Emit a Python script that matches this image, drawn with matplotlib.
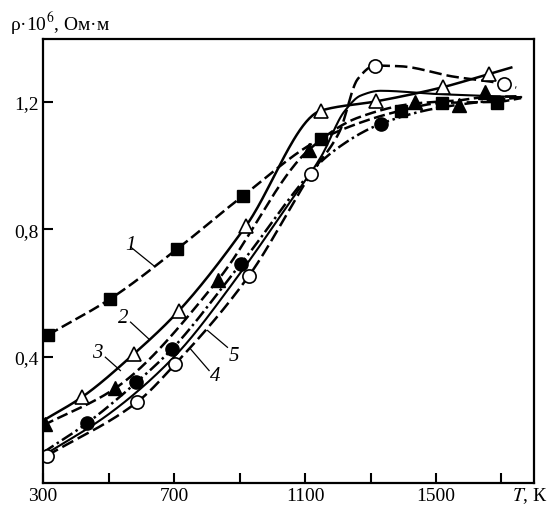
import numpy as np
import matplotlib
matplotlib.use("Agg")
import matplotlib.pyplot as plt

# values: T (K), rho*1e6 (Ohm*m)
# curve 1: filled squares, dashed
t1_pts = [315, 505, 710, 909, 1149, 1394, 1517, 1685]
r1_pts = [0.469, 0.582, 0.739, 0.904, 1.084, 1.173, 1.197, 1.197]
t1_line = [315, 505, 710, 909, 1149, 1394, 1517, 1685, 1760]
r1_line = [0.469, 0.582, 0.739, 0.904, 1.084, 1.173, 1.197, 1.200, 1.212]

# curve 2: open triangles, solid
t2_pts = [419, 577, 714, 919, 1149, 1318, 1520, 1662]
r2_pts = [0.274, 0.409, 0.544, 0.810, 1.173, 1.202, 1.246, 1.288]
t2_line = [300, 419, 577, 714, 919, 1149, 1318, 1520, 1662, 1730]
r2_line = [0.200, 0.274, 0.409, 0.544, 0.810, 1.173, 1.202, 1.246, 1.288, 1.308]

# curve 3: filled triangles, dashed
t3_pts = [305, 521, 833, 1112, 1435, 1570, 1649]
r3_pts = [0.190, 0.302, 0.640, 1.050, 1.200, 1.190, 1.230]
t3_line = [300, 521, 833, 1112, 1260, 1435, 1570, 1649, 1760]
r3_line = [0.185, 0.302, 0.640, 1.050, 1.150, 1.195, 1.205, 1.215, 1.218]

# filled circles, dash-dot
t4_pts = [434, 585, 694, 904, 1331]
r4_pts = [0.192, 0.320, 0.425, 0.692, 1.131]
t4_line = [300, 434, 585, 694, 904, 1180, 1331, 1500, 1760]
r4_line = [0.100, 0.192, 0.320, 0.425, 0.692, 1.040, 1.131, 1.180, 1.215]

# solid line without markers
t6_line = [300, 500, 700, 900, 1050, 1150, 1220, 1270, 1330, 1500, 1760]
r6_line = [0.090, 0.220, 0.400, 0.660, 0.880, 1.030, 1.170, 1.220, 1.235, 1.225, 1.215]

# curve 5: open circles, dashed
t5_pts = [312, 587, 704, 929, 1118, 1314, 1709]
r5_pts = [0.090, 0.258, 0.378, 0.655, 0.974, 1.314, 1.256]
t5_line = [312, 587, 704, 929, 1118, 1205, 1261, 1314, 1390, 1550, 1709, 1745]
r5_line = [0.090, 0.258, 0.378, 0.655, 0.974, 1.106, 1.272, 1.314, 1.312, 1.280, 1.256, 1.245]

# curve labels: (text x, text y, leader start, leader end)
labels = ["1", "2", "3", "4", "5"]
lab_xy = [(567, 0.754), (546, 0.525), (464, 0.415), (827, 0.341), (883, 0.404)]
lead = [((638, 0.686), (567, 0.745)), ((623, 0.456), (567, 0.509)),
        ((536, 0.357), (490, 0.399)), ((750, 0.425), (807, 0.357)),
        ((802, 0.483), (863, 0.43))]


def smooth(x, y, n=300):
    # monotone cubic (pchip) curve through the read nodes
    x = np.asarray(x, float); y = np.asarray(y, float)
    h = np.diff(x); d = np.diff(y) / h
    m = np.zeros_like(y)
    m[0], m[-1] = d[0], d[-1]
    for k in range(1, len(x) - 1):
        if d[k - 1] * d[k] > 0:
            w1 = 2 * h[k] + h[k - 1]; w2 = h[k] + 2 * h[k - 1]
            m[k] = (w1 + w2) / (w1 / d[k - 1] + w2 / d[k])
    xs = np.linspace(x[0], x[-1], n)
    i = np.clip(np.searchsorted(x, xs) - 1, 0, len(x) - 2)
    t = (xs - x[i]) / h[i]
    h00 = 2*t**3 - 3*t**2 + 1; h10 = t**3 - 2*t**2 + t
    h01 = -2*t**3 + 3*t**2; h11 = t**3 - t**2
    ys = h00*y[i] + h10*h[i]*m[i] + h01*y[i+1] + h11*h[i]*m[i+1]
    return xs, ys


plt.rcParams['font.family'] = 'Liberation Serif'
plt.rcParams['mathtext.fontset'] = 'stix'

fig = plt.figure(figsize=(5.53, 5.06), dpi=100)
ax = fig.add_axes([0.078, 0.044, 0.888, 0.876])

lw = 1.8
ax.plot(*smooth(t1_line, r1_line), color='k', lw=lw, dashes=(4.5, 1.8))
ax.plot(*smooth(t2_line, r2_line), color='k', lw=lw)
ax.plot(*smooth(t3_line, r3_line), color='k', lw=lw, dashes=(4.5, 1.8))
ax.plot(*smooth(t4_line, r4_line), color='k', lw=lw, dashes=(5, 1.5, 1, 1.5))
ax.plot(*smooth(t6_line, r6_line), color='k', lw=1.5)
ax.plot(*smooth(t5_line, r5_line), color='k', lw=lw, dashes=(5, 2))

ax.plot(t1_pts, r1_pts, 's', ms=8, mfc='k', mec='k', ls='none')
ax.plot(t2_pts, r2_pts, '^', ms=9.5, mfc='white', mec='k', mew=1.2, ls='none')
ax.plot(t3_pts, r3_pts, '^', ms=9.5, mfc='k', mec='k', ls='none')
ax.plot(t4_pts, r4_pts, 'o', ms=9.5, mfc='k', mec='k', ls='none')
ax.plot(t5_pts, r5_pts, 'o', ms=9.5, mfc='white', mec='k', mew=1.2, ls='none')

for s, (tx, ty), (p0, p1) in zip(labels, lab_xy, lead):
    ax.text(tx, ty, s, fontsize=15, style='italic', ha='center', va='center')
    ax.plot([p0[0], p1[0]], [p0[1], p1[1]], color='k', lw=0.9)

ax.set_xlim(300, 1800)
ax.set_ylim(0.005, 1.396)
ax.set_xticks([300, 500, 700, 900, 1100, 1300, 1500, 1700])
ax.set_xticklabels(['300', '', '700', '', '1100', '', '1500', ''])
ax.set_yticks([0.4, 0.8, 1.2])
ax.set_yticklabels(['0,4', '0,8', '1,2'])
ax.tick_params(direction='in', length=7, width=1.5, labelsize=14, pad=3,
               top=False, right=False)
for sp in ax.spines.values():
    sp.set_linewidth(1.6)

fig.text(0.018, 0.939, 'ρ·10$^6$, Ом·м', fontsize=14, ha='left', va='baseline')
fig.text(0.925, 0.0, '$T$, К', fontsize=14, ha='left', va='bottom')

fig.savefig('out.png', dpi=100)
